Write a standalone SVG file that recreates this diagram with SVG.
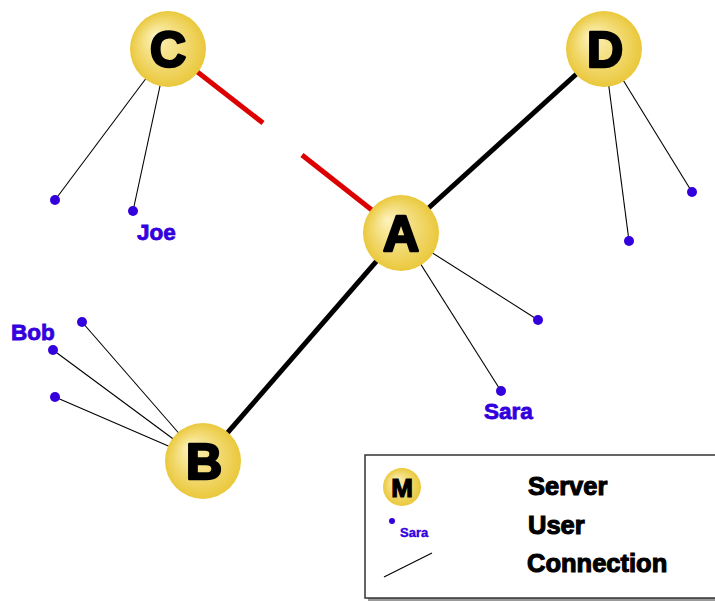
<svg xmlns="http://www.w3.org/2000/svg" width="715" height="602" viewBox="0 0 715 602">
<defs>
<radialGradient id="g" cx="0.5" cy="0.5" r="0.5" fx="0.32" fy="0.32">
<stop offset="0" stop-color="#fdf3bd"/>
<stop offset="1" stop-color="#eac83c"/>
</radialGradient>
<style>
.srv{fill:url(#g);}
.lt{font-family:"Liberation Sans",Arial,sans-serif;font-weight:bold;font-size:50px;fill:#000;stroke:#000;stroke-width:2.6;stroke-linejoin:round;text-anchor:middle;}
.u{fill:#3300dd;}
.ul{font-family:"Liberation Sans",Arial,sans-serif;font-weight:bold;font-size:22.5px;fill:#3300dd;stroke:#3300dd;stroke-width:0.8;}
.thin{stroke:#000;stroke-width:1.1;fill:none;}
.thick{stroke:#000;stroke-width:5;fill:none;}
.red{stroke:#dd0000;stroke-width:5;fill:none;}
.lg{font-family:"Liberation Sans",Arial,sans-serif;font-weight:bold;font-size:25.5px;fill:#000;stroke:#000;stroke-width:1.1;}
</style>
</defs>
<rect width="715" height="602" fill="#fff"/>
<g id="connectors">
<line class="red" x1="168" y1="49" x2="263" y2="123"/>
<line class="red" x1="302" y1="155" x2="401" y2="233"/>
<line class="thick" x1="401" y1="233" x2="604" y2="49"/>
<line class="thick" x1="401" y1="233" x2="203" y2="461"/>
<line class="thin" x1="168" y1="49" x2="55" y2="200"/>
<line class="thin" x1="168" y1="49" x2="133" y2="211"/>
<line class="thin" x1="604" y1="49" x2="629" y2="241"/>
<line class="thin" x1="604" y1="49" x2="692" y2="192"/>
<line class="thin" x1="401" y1="233" x2="538" y2="320"/>
<line class="thin" x1="401" y1="233" x2="501" y2="391"/>
<line class="thin" x1="203" y1="461" x2="82" y2="322"/>
<line class="thin" x1="203" y1="461" x2="53" y2="350"/>
<line class="thin" x1="203" y1="461" x2="55" y2="397"/>
</g>
<g id="userC1"><circle class="u" cx="55" cy="200" r="5"/></g>
<g id="userJoe"><circle class="u" cx="133" cy="211" r="5"/><text class="ul" x="137" y="240">Joe</text></g>
<g id="userD1"><circle class="u" cx="629" cy="241" r="5"/></g>
<g id="userD2"><circle class="u" cx="692" cy="192" r="5"/></g>
<g id="userA1"><circle class="u" cx="538" cy="320" r="5"/></g>
<g id="userSara"><circle class="u" cx="501" cy="391" r="5"/><text class="ul" x="484" y="419">Sara</text></g>
<g id="userBob"><circle class="u" cx="53" cy="350" r="5"/><text class="ul" x="11" y="340">Bob</text></g>
<g id="userB2"><circle class="u" cx="82" cy="322" r="5"/></g>
<g id="userB3"><circle class="u" cx="55" cy="397" r="5"/></g>
<g id="serverC"><circle class="srv" cx="168" cy="49" r="38"/><text class="lt" x="168" y="67">C</text></g>
<g id="serverD"><circle class="srv" cx="604" cy="49" r="38"/><text class="lt" x="605" y="67">D</text></g>
<g id="serverA"><circle class="srv" cx="401" cy="233" r="38"/><text class="lt" x="401" y="251">A</text></g>
<g id="serverB"><circle class="srv" cx="203" cy="461" r="38"/><text class="lt" x="204" y="479">B</text></g>
<g id="legend">
<rect x="368" y="458" width="360" height="143" fill="#999"/>
<rect x="365" y="455" width="360" height="143" fill="#fff" stroke="#333" stroke-width="1.5"/>
<circle class="srv" cx="402" cy="487" r="19"/>
<text x="402" y="497" font-family="Liberation Sans,Arial,sans-serif" font-weight="bold" font-size="26" text-anchor="middle" fill="#000" stroke="#000" stroke-width="1.2">M</text>
<circle class="u" cx="392" cy="521" r="3"/>
<text x="400" y="537" font-family="Liberation Sans,Arial,sans-serif" font-weight="bold" font-size="13" fill="#3300dd" stroke="#3300dd" stroke-width="0.4">Sara</text>
<line class="thin" x1="384" y1="577" x2="432" y2="553"/>
<text class="lg" x="528" y="495">Server</text>
<text class="lg" x="528" y="534">User</text>
<text class="lg" x="527" y="572">Connection</text>
</g>
</svg>
